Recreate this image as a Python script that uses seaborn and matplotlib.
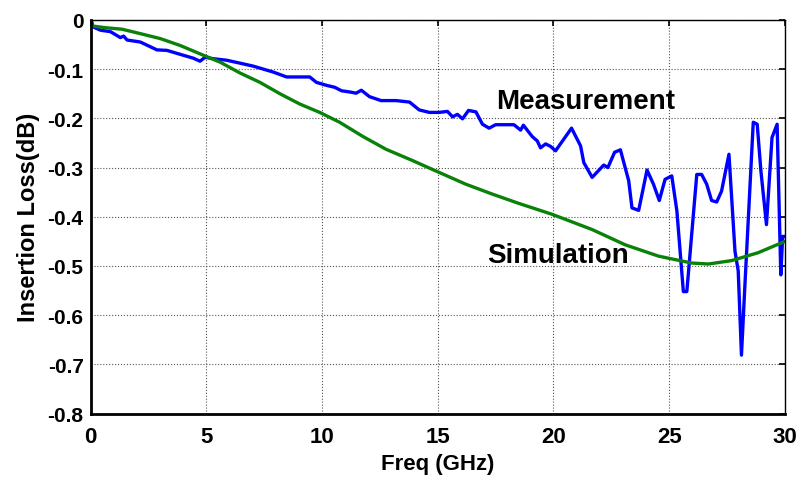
import matplotlib
matplotlib.use("Agg")
import matplotlib.pyplot as plt
from matplotlib import font_manager
import seaborn as sns
import pandas as pd

# Measured insertion loss (GHz, dB)
meas_freq = [0.0, 0.04, 0.1, 0.43, 0.86, 1.29, 1.43, 1.58, 2.15, 2.87, 3.3, 3.87, 4.45, 4.73,
             4.95, 5.31, 5.88, 6.46, 7.03, 7.89, 8.47, 9.47, 9.76, 10.19, 10.55, 10.84,
             11.26, 11.47, 11.7, 12.05, 12.55, 13.2, 13.78, 14.2, 14.64, 15.06, 15.42,
             15.64, 15.85, 16.07, 16.33, 16.65, 16.93, 17.22, 17.5, 18.29, 18.58, 18.7,
             19.08, 19.3, 19.44, 19.66, 19.87, 20.09, 20.45, 20.78, 21.17, 21.31, 21.67,
             22.17, 22.35, 22.64, 22.89, 23.25, 23.39, 23.68, 24.04, 24.32, 24.57, 24.82,
             25.11, 25.33, 25.61, 25.76, 26.19, 26.4, 26.62, 26.83, 27.05, 27.26, 27.58,
             27.84, 27.98, 28.12, 28.27, 28.63, 28.8, 28.96, 29.2, 29.44, 29.66, 29.82,
             29.9, 30.0]
meas_loss = [-0.005, 0.0, -0.014, -0.021, -0.024, -0.036, -0.033, -0.041, -0.045, -0.061,
             -0.062, -0.07, -0.078, -0.084, -0.076, -0.079, -0.082, -0.088, -0.094, -0.106,
             -0.116, -0.116, -0.127, -0.133, -0.137, -0.144, -0.147, -0.149, -0.143,
             -0.156, -0.164, -0.164, -0.167, -0.183, -0.188, -0.188, -0.186, -0.197,
             -0.192, -0.201, -0.184, -0.187, -0.212, -0.22, -0.213, -0.213, -0.224,
             -0.214, -0.237, -0.246, -0.26, -0.252, -0.257, -0.266, -0.242, -0.22,
             -0.256, -0.29, -0.32, -0.295, -0.3, -0.269, -0.264, -0.327, -0.382, -0.387,
             -0.305, -0.334, -0.367, -0.324, -0.317, -0.388, -0.552, -0.552, -0.314,
             -0.314, -0.334, -0.367, -0.37, -0.348, -0.273, -0.47, -0.51, -0.681, -0.538,
             -0.208, -0.212, -0.307, -0.416, -0.239, -0.212, -0.518, -0.44, -0.44]

# Simulated insertion loss (GHz, dB)
sim_freq = [0.0, 0.65, 1.36, 2.15, 3.01, 3.87, 4.73, 5.6, 6.46, 7.32, 8.18, 9.04, 9.9,
            10.76, 11.77, 12.77, 13.92, 14.92, 16.22, 17.36, 18.51, 19.94, 21.67, 23.1,
            24.54, 25.97, 26.69, 27.7, 28.84, 30.0]
sim_loss = [-0.012, -0.016, -0.019, -0.028, -0.038, -0.052, -0.069, -0.086, -0.108, -0.127,
            -0.15, -0.171, -0.188, -0.208, -0.237, -0.263, -0.286, -0.307, -0.334, -0.354,
            -0.373, -0.395, -0.426, -0.457, -0.48, -0.494, -0.496, -0.489, -0.473, -0.45]

x_ticks = [0, 5, 10, 15, 20, 25, 30]
y_ticks = [0, -0.1, -0.2, -0.3, -0.4, -0.5, -0.6, -0.7, -0.8]
y_tick_labels = ["0", "-0.1", "-0.2", "-0.3", "-0.4", "-0.5", "-0.6", "-0.7", "-0.8"]

df = pd.concat([
    pd.DataFrame({"freq": meas_freq, "loss": meas_loss, "kind": "Measurement"}),
    pd.DataFrame({"freq": sim_freq, "loss": sim_loss, "kind": "Simulation"}),
])

sns.set_style("white")
plt.rcParams["font.family"] = ["Liberation Sans", "DejaVu Sans"]
plt.rcParams["text.color"] = "black"
plt.rcParams["axes.labelcolor"] = "black"
plt.rcParams["xtick.color"] = "black"
plt.rcParams["ytick.color"] = "black"

installed = {f.name for f in font_manager.fontManager.ttflist}
narrow = ["Liberation Sans Narrow"] if "Liberation Sans Narrow" in installed else []
narrow_family = narrow + ["Liberation Sans", "DejaVu Sans"]

fig = plt.figure(figsize=(8.01, 4.85), dpi=100)
ax = fig.add_axes([0.113, 0.145, 0.867, 0.812])

sns.lineplot(data=df, x="freq", y="loss", hue="kind",
             palette={"Measurement": "#0000ff", "Simulation": "#0a820a"},
             linewidth=2.4, legend=False, ax=ax, sort=False, estimator=None)

ax.set_xlim(0, 30)
ax.set_ylim(-0.8, 0)
ax.set_xticks(x_ticks)
ax.set_yticks(y_ticks)
ax.set_yticklabels(y_tick_labels)
ax.grid(True, color="#555555", linestyle=":", linewidth=0.8)
ax.tick_params(direction="in", length=4, width=1.2, top=True, right=True,
               labelsize=15)
ax.tick_params(axis="x", pad=9)
ax.tick_params(axis="y", pad=5)
for lab in ax.get_yticklabels():
    lab.set_fontweight("bold")
for lab in ax.get_xticklabels():
    lab.set_fontweight("bold")
    lab.set_family(narrow_family)
    lab.set_fontsize(16)

for side, sp in ax.spines.items():
    sp.set_color("black")
    sp.set_linewidth(2.0 if side in ("left", "bottom") else 1.0)

ax.set_xlabel("Freq (GHz)", fontsize=16, fontweight="bold", labelpad=4,
              family=narrow_family)
ax.set_ylabel("Insertion Loss(dB)", fontsize=17, fontweight="bold", labelpad=5)

ax.text(21.4, -0.164, "Measurement", fontsize=20, fontweight="bold",
        ha="center", va="center")
ax.text(20.2, -0.478, "Simulation", fontsize=20, fontweight="bold",
        ha="center", va="center")

fig.savefig("out.png", dpi=100)
